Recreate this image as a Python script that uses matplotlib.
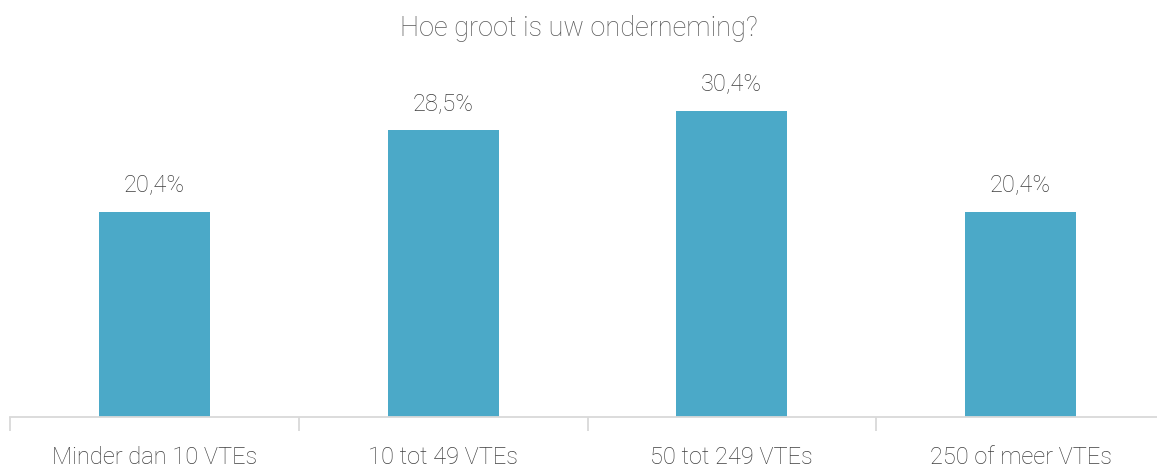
import matplotlib
matplotlib.use("Agg")
import matplotlib.pyplot as plt
import numpy as np

categories = ["Minder dan 10 VTEs", "10 tot 49 VTEs", "50 tot 249 VTEs", "250 of meer VTEs"]
values = [20.4, 28.5, 30.4, 20.4]
value_labels = ["20,4%", "28,5%", "30,4%", "20,4%"]
title = "Hoe groot is uw onderneming?"

plt.rcParams['font.family'] = ['Roboto', 'DejaVu Sans']
plt.rcParams['font.weight'] = 'light'

bar_color = "#4BA9C8"
text_color = "#3F3F3F"

fig = plt.figure(figsize=(11.57, 4.70), dpi=100)
ax = fig.add_axes([10 / 1157, 0.1128, 1155 / 1157, 0.75])

x = np.arange(len(categories))
ax.bar(x, values, width=0.385, color=bar_color, zorder=2)

for xi, v, lab in zip(x, values, value_labels):
    ax.annotate(lab, (xi, v), xytext=(0, 11), textcoords="offset points",
                ha="center", va="bottom", fontsize=17, color=text_color,
                fontweight="light")

ax.set_xlim(-0.5, len(categories) - 0.5)
ax.set_ylim(0, 35)

# labels at centers, tick marks at category borders
ax.set_xticks(x)
ax.set_xticklabels(categories, fontsize=17, color=text_color, fontweight="light")
ax.tick_params(axis="x", which="major", length=0, pad=21)
ax.set_xticks(np.arange(-0.5, len(categories)), minor=True)
ax.tick_params(axis="x", which="minor", length=10, width=1.3, color="#D9D9D9")
ax.set_yticks([])

for side in ["top", "right", "left"]:
    ax.spines[side].set_visible(False)
ax.spines["bottom"].set_color("#D9D9D9")
ax.spines["bottom"].set_linewidth(1.3)

fig.text(0.5, 1 - 29 / 470, title, ha="center", va="center", fontsize=19.5,
         color="#595959", fontweight="light")

fig.savefig("out.png", dpi=100)
